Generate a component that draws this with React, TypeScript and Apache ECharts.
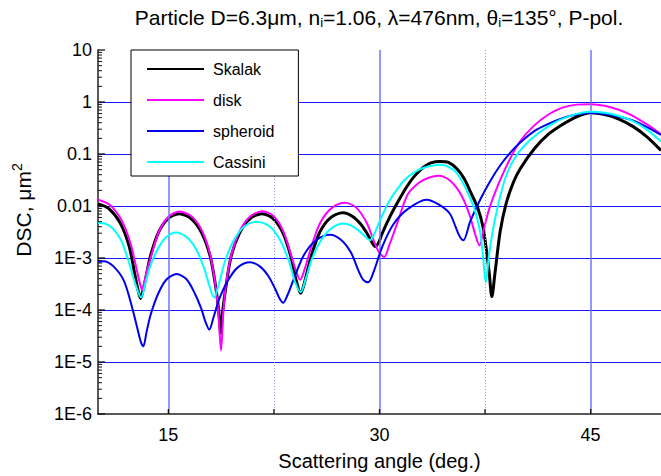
import React, { useEffect, useRef } from 'react';
import * as echarts from 'echarts';

const skalak: [number, number][] = [
  [10.0, 1.1e-2], [10.77, 8.9e-3], [11.58, 4.7e-3], [12.22, 1.66e-3], [12.64, 4.5e-4], [12.88, 2.2e-4], [13.03, 1.66e-4],
  [13.2, 2.4e-4], [13.4, 4.2e-4], [13.71, 1.05e-3], [14.26, 2.95e-3], [14.94, 5.6e-3], [15.76, 7.1e-3], [16.65, 5.6e-3],
  [17.39, 2.95e-3], [17.98, 1.05e-3], [18.36, 2.8e-4], [18.57, 1.0e-4], [18.72, 3.6e-5], [18.87, 1.0e-4], [19.07, 2.6e-4],
  [19.45, 1.05e-3], [20.04, 2.95e-3], [20.77, 5.6e-3], [21.65, 7.1e-3], [22.48, 5.6e-3], [23.16, 2.95e-3], [23.71, 1.05e-3],
  [24.07, 3.8e-4], [24.4, 2.1e-4], [24.76, 4.2e-4], [25.15, 1.1e-3], [25.75, 3.1e-3], [26.51, 5.9e-3], [27.41, 7.4e-3],
  [28.09, 6.3e-3], [28.66, 4.5e-3], [29.12, 2.95e-3], [29.46, 2.0e-3], [29.69, 1.66e-3], [29.95, 2.0e-3], [30.15, 2.8e-3],
  [30.75, 6.3e-3], [31.35, 1.26e-2], [31.96, 2.4e-2], [32.5, 3.8e-2], [33.1, 5.5e-2], [33.7, 6.8e-2], [34.3, 7.2e-2],
  [34.9, 6.9e-2], [35.5, 5.2e-2], [36.0, 3.4e-2], [36.5, 1.78e-2], [37.0, 8.9e-3], [37.35, 4.0e-3], [37.6, 1.4e-3],
  [37.8, 5.0e-4], [37.98, 1.8e-4], [38.2, 5.0e-4], [38.57, 3.2e-3], [39.0, 1.12e-2], [39.5, 2.8e-2], [40.0, 5.2e-2],
  [41.0, 0.126], [42.0, 0.24], [43.0, 0.37], [44.0, 0.52], [45.0, 0.62], [46.0, 0.575], [47.0, 0.47], [48.0, 0.34],
  [49.0, 0.214], [50.0, 0.117],
];

const disk: [number, number][] = [
  [10.0, 1.32e-2], [10.8, 1.07e-2], [11.63, 5.6e-3], [12.3, 1.95e-3], [12.73, 6.3e-4], [12.95, 3.5e-4], [13.13, 2.45e-4],
  [13.3, 3.5e-4], [13.5, 6.0e-4], [13.8, 1.15e-3], [14.33, 3.2e-3], [15.0, 6.2e-3], [15.8, 7.8e-3], [16.68, 6.2e-3],
  [17.42, 3.2e-3], [17.97, 1.15e-3], [18.33, 3.2e-4], [18.55, 8.9e-5], [18.74, 1.66e-5], [18.9, 8.9e-5], [19.1, 3.2e-4],
  [19.48, 1.17e-3], [20.07, 3.3e-3], [20.81, 6.3e-3], [21.7, 7.9e-3], [22.5, 6.3e-3], [23.16, 3.3e-3], [23.7, 1.17e-3],
  [24.04, 6.0e-4], [24.36, 3.8e-4], [24.7, 6.3e-4], [25.16, 1.66e-3], [25.8, 4.8e-3], [26.6, 9.1e-3], [27.55, 1.15e-2],
  [28.38, 9.1e-3], [29.08, 4.8e-3], [29.64, 2.0e-3], [29.99, 1.26e-3], [30.33, 1.05e-3], [30.7, 1.78e-3], [31.3, 5.0e-3],
  [32.0, 1.66e-2], [32.8, 2.8e-2], [33.5, 3.5e-2], [34.19, 3.8e-2], [35.06, 3.0e-2], [35.79, 1.66e-2], [36.37, 7.1e-3],
  [36.81, 2.8e-3], [37.1, 1.74e-3], [37.4, 3.5e-3], [37.8, 8.9e-3], [38.2, 1.78e-2], [38.6, 3.3e-2], [39.3, 8.3e-2],
  [40.0, 0.178], [41.0, 0.355], [42.0, 0.575], [43.0, 0.78], [44.0, 0.89], [45.0, 0.91], [46.0, 0.85], [47.0, 0.71],
  [48.0, 0.54], [49.0, 0.37], [50.0, 0.24],
];

const spheroid: [number, number][] = [
  [10.0, 8.5e-4], [10.4, 8.7e-4], [11.1, 6.9e-4], [11.85, 3.6e-4], [12.45, 1.05e-4], [12.84, 4.0e-5], [13.05, 2.4e-5],
  [13.22, 2.0e-5], [13.45, 3.8e-5], [13.75, 8.3e-5], [14.29, 2.1e-4], [14.88, 3.9e-4], [15.59, 4.9e-4], [16.29, 3.9e-4],
  [16.87, 2.1e-4], [17.33, 1.07e-4], [17.63, 6.0e-5], [17.91, 4.2e-5], [18.2, 7.1e-5], [18.6, 1.58e-4], [19.21, 3.6e-4],
  [19.93, 6.6e-4], [20.8, 8.3e-4], [21.5, 6.9e-4], [22.1, 4.5e-4], [22.6, 2.5e-4], [22.9, 1.66e-4], [23.15, 1.38e-4],
  [23.45, 1.9e-4], [23.99, 4.5e-4], [24.65, 1.17e-3], [25.49, 2.2e-3], [26.49, 2.8e-3], [27.3, 2.2e-3], [27.98, 1.26e-3],
  [28.52, 5.6e-4], [28.85, 3.8e-4], [29.2, 3.4e-4], [29.6, 5.6e-4], [30.2, 1.66e-3], [31.0, 4.5e-3], [32.0, 8.7e-3],
  [33.35, 1.32e-2], [34.2, 1.07e-2], [35.0, 7.1e-3], [35.4, 4.0e-3], [35.7, 2.6e-3], [35.96, 2.2e-3], [36.44, 5.0e-3],
  [37.15, 1.32e-2], [37.86, 3.0e-2], [38.57, 6.0e-2], [39.28, 0.105], [40.0, 0.166], [41.0, 0.275], [42.0, 0.38],
  [43.0, 0.49], [44.0, 0.575], [45.0, 0.62], [46.0, 0.59], [47.0, 0.52], [48.0, 0.44], [49.0, 0.33], [50.0, 0.234],
];

const cassini: [number, number][] = [
  [10.0, 4.7e-3], [10.5, 4.6e-3], [11.0, 3.8e-3], [11.64, 2.2e-3], [12.27, 7.1e-4], [12.68, 3.0e-4], [13.06, 1.74e-4],
  [13.36, 3.2e-4], [13.68, 6.6e-4], [14.18, 1.38e-3], [14.8, 2.45e-3], [15.54, 3.1e-3], [16.35, 2.45e-3], [17.03, 1.38e-3],
  [17.57, 6.0e-4], [17.9, 3.0e-4], [18.24, 1.74e-4], [18.61, 3.3e-4], [19.0, 8.3e-4], [19.61, 2.1e-3], [20.37, 4.0e-3],
  [21.28, 5.0e-3], [22.22, 4.0e-3], [22.98, 2.1e-3], [23.62, 7.9e-4], [23.99, 3.5e-4], [24.4, 2.2e-4], [24.76, 4.0e-4],
  [25.16, 8.9e-4], [25.76, 2.0e-3], [26.52, 3.6e-3], [27.43, 4.6e-3], [28.0, 4.2e-3], [28.5, 3.4e-3], [28.9, 2.7e-3],
  [29.15, 2.35e-3], [29.33, 2.2e-3], [29.6, 2.8e-3], [30.0, 5.0e-3], [30.6, 1.12e-2], [31.2, 2.0e-2], [31.8, 3.2e-2],
  [32.5, 4.5e-2], [33.2, 5.5e-2], [34.3, 6.2e-2], [35.28, 4.9e-2], [35.8, 3.2e-2], [36.23, 1.9e-2], [36.74, 8.9e-3],
  [37.15, 3.2e-3], [37.35, 1.12e-3], [37.55, 3.4e-4], [37.8, 1.26e-3], [38.2, 5.5e-3], [38.9, 3.2e-2], [39.6, 8.3e-2],
  [40.7, 0.186], [42.12, 0.36], [43.54, 0.54], [45.0, 0.65], [46.0, 0.62], [47.0, 0.54], [48.0, 0.43], [49.0, 0.295],
  [50.0, 0.174],
];

const seriesNames = ['Skalak', 'disk', 'spheroid', 'Cassini'];
const seriesColors = ['#000000', '#ff00ff', '#0000ee', '#00ffff'];
const seriesWidths = [3, 2, 2, 2];
const seriesData = [skalak, disk, spheroid, cassini];

const X_MIN = 10;
const X_MAX = 50;
const Y_MIN = 1e-6;
const Y_MAX = 10;
const xTickValues = [15, 22.5, 30, 37.5, 45];
const xLabelValues = [15, 30, 45];
const xMajorGrid = [15, 30, 45];
const xMinorGrid = [22.5, 37.5];
// decades 1E-6 .. 10 and their labels
const yDecades = [1e-6, 1e-5, 1e-4, 1e-3, 1e-2, 1e-1, 1, 10];
const yTickLabels = ['1E-6', '1E-5', '1E-4', '1E-3', '0.01', '0.1', '1', '10'];
const yMinorMantissas = [2, 3, 4, 5, 6, 7, 8, 9];

// tick items: [x, y, length, orientation(0 = y-axis tick, 1 = x-axis tick)]
const tickItems: number[][] = [];
yDecades.forEach((d) => tickItems.push([X_MIN, d, 7, 0]));
yDecades.slice(0, -1).forEach((d) => yMinorMantissas.forEach((m) => tickItems.push([X_MIN, m * d, 4, 0])));
xTickValues.forEach((v) => tickItems.push([v, Y_MIN, 5, 1]));

const FONT = 'Liberation Sans, Arial, Helvetica, sans-serif';

export default function App() {
  const ref = useRef<HTMLDivElement>(null);
  useEffect(() => {
    if (!ref.current) return;
    const chart = echarts.init(ref.current, undefined, { renderer: 'svg' });
    const lines: any[] = seriesNames.map((name, i) => ({
      name,
      type: 'line',
      data: seriesData[i],
      symbol: 'none',
      smooth: 0.3,
      z: 3 + i,
      lineStyle: { color: seriesColors[i], width: seriesWidths[i] },
      itemStyle: { color: seriesColors[i] },
    }));
    const gridSeries = {
      name: 'grid',
      type: 'line',
      data: [],
      z: 1,
      silent: true,
      markLine: {
        silent: true,
        symbol: 'none',
        label: { show: false },
        animation: false,
        data: [
          ...xMajorGrid.map((v) => ({ xAxis: v, lineStyle: { color: '#7373ff', width: 1.5, type: 'solid' } })),
          ...xMinorGrid.map((v) => ({ xAxis: v, lineStyle: { color: '#9a9aff', width: 1, type: [1, 2] } })),
        ],
      },
    };
    const tickSeries = {
      name: 'ticks',
      type: 'custom',
      silent: true,
      clip: false,
      z: 8,
      data: tickItems,
      renderItem: (params: any, api: any) => {
        const p = api.coord([api.value(0), api.value(1)]);
        const len = api.value(2);
        const horizontal = api.value(3) === 0;
        return {
          type: 'line',
          shape: horizontal
            ? { x1: p[0], y1: p[1], x2: p[0] + len, y2: p[1] }
            : { x1: p[0], y1: p[1], x2: p[0], y2: p[1] - len },
          style: { stroke: '#111', lineWidth: len >= 5 ? 1.3 : 1 },
        };
      },
    };
    const yLabel = (v: number) => {
      const idx = yDecades.findIndex((d) => Math.abs(d - v) / d < 1e-6);
      return idx >= 0 ? yTickLabels[idx] : '';
    };
    chart.setOption({
      animation: false,
      backgroundColor: '#ffffff',
      grid: { left: 98, right: 0, top: 50, bottom: 62, outerBoundsMode: 'none', containLabel: false },
      graphic: [
        {
          type: 'text',
          x: 379,
          y: 17,
          style: {
            text: 'Particle D=6.3μm, n{sub|i}=1.06, λ=476nm, θ{sub|i}=135°, P-pol.',
            align: 'center',
            verticalAlign: 'middle',
            fill: '#000',
            fontSize: 21,
            fontFamily: FONT,
            rich: {
              sub: { fontSize: 13, fontFamily: FONT, fill: '#000', padding: [10, 0, 0, 0] },
            },
          },
        },
        {
          type: 'text',
          x: 23,
          y: 210,
          rotation: Math.PI / 2,
          style: {
            text: 'DSC, μm{sup|2}',
            align: 'center',
            verticalAlign: 'middle',
            fill: '#000',
            fontSize: 21,
            lineHeight: 26,
            fontFamily: FONT,
            rich: {
              sup: { fontSize: 14, lineHeight: 14, fontFamily: FONT, fill: '#000', verticalAlign: 'top' },
            },
          },
        },
      ],
      legend: {
        orient: 'vertical',
        left: 131,
        top: 50,
        padding: [11, 24, 6, 15],
        itemWidth: 57,
        itemHeight: 14,
        itemGap: 15,
        backgroundColor: '#ffffff',
        borderColor: '#000000',
        borderWidth: 1,
        borderRadius: 0,
        data: seriesNames,
        itemStyle: { opacity: 0 },
        textStyle: { fontSize: 16, color: '#000', fontFamily: FONT, padding: [0, 0, 0, 4] },
        z: 10,
      },
      xAxis: {
        type: 'value',
        min: X_MIN,
        max: X_MAX,
        name: 'Scattering angle (deg.)',
        nameLocation: 'middle',
        nameGap: 37,
        nameTextStyle: { fontSize: 20, color: '#000', fontFamily: FONT },
        axisLine: { show: true, onZero: false, lineStyle: { color: '#222', width: 1.5 } },
        axisTick: { show: false },
        axisLabel: { customValues: xLabelValues, fontSize: 18, color: '#000', fontFamily: FONT, margin: 12 },
        splitLine: { show: false },
        z: 5,
      },
      yAxis: {
        type: 'log',
        logBase: 10,
        min: Y_MIN,
        max: Y_MAX,
        axisLine: { show: true, lineStyle: { color: '#222', width: 1.5 } },
        axisTick: { show: false },
        axisLabel: {
          fontSize: 18,
          color: '#000',
          fontFamily: FONT,
          margin: 6,
          formatter: yLabel,
        },
        splitLine: { show: true, showMaxLine: false, showMinLine: false, lineStyle: { color: '#1a1aff', width: 1 } },
      },
      series: [gridSeries, ...lines, tickSeries],
    });
    return () => chart.dispose();
  }, []);
  return <div ref={ref} style={{ position: 'fixed', left: 0, top: 0, width: 661, height: 476 }} />;
}
